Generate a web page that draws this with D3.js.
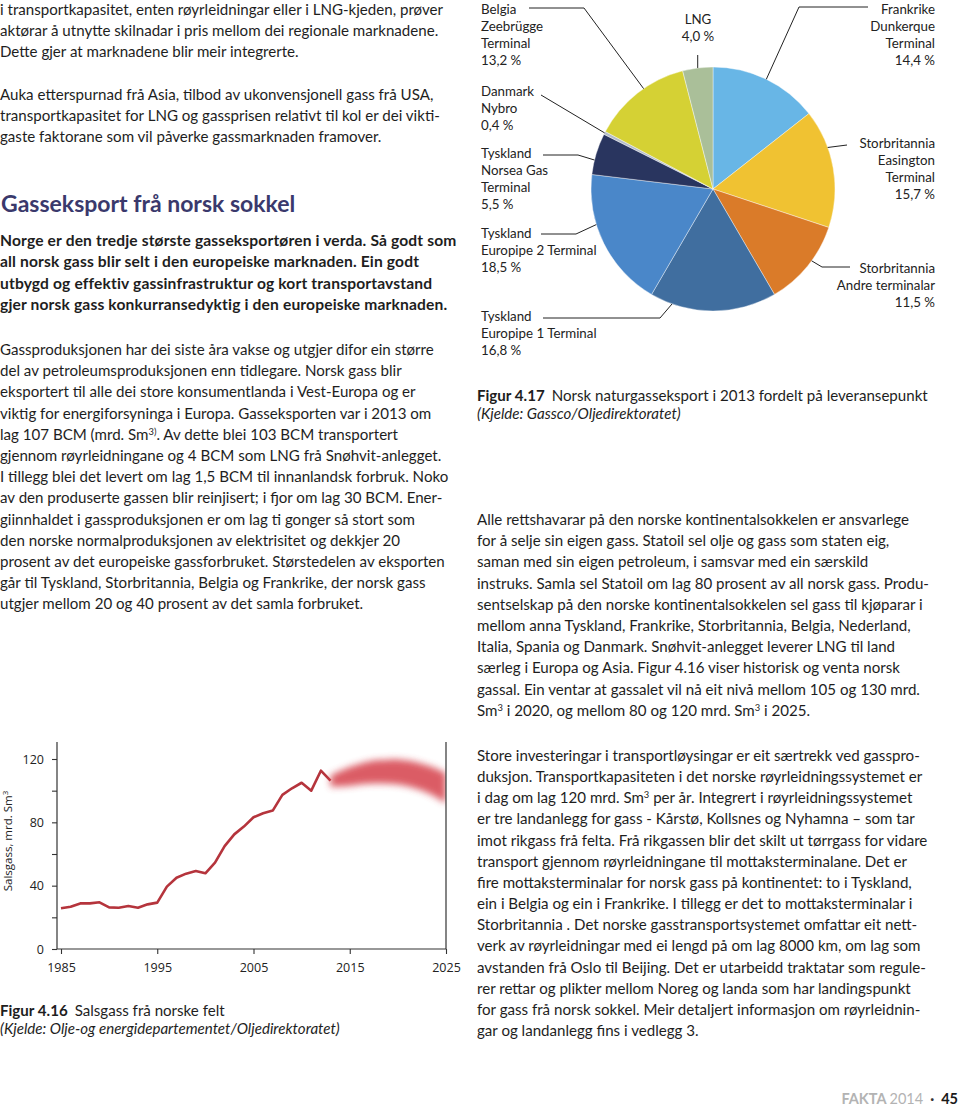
<!DOCTYPE html>
<html><head><meta charset="utf-8">
<script src="https://cdn.jsdelivr.net/npm/d3@7"></script>
<style>body{margin:0;background:#fff}svg{display:block}</style>
</head><body>
<script>
// ---------- DATA ----------
const pieLabels = ["Frankrike Dunkerque Terminal","Storbritannia Easington Terminal","Storbritannia Andre terminalar","Tyskland Europipe 1 Terminal","Tyskland Europipe 2 Terminal","Tyskland Norsea Gas Terminal","Danmark Nybro","Belgia Zeebrügge Terminal","LNG"];
const pieValues = [14.4, 15.7, 11.5, 16.8, 18.5, 5.5, 0.4, 13.2, 4.0];
const pieColors = ["#68b6e6","#f0c232","#da7b29","#406e9f","#4a87c9","#29355f","#b4bdc9","#d5d134","#aabf99"];
const pieLabelLines = [
  ["Frankrike","Dunkerque","Terminal","14,4 %"],
  ["Storbritannia","Easington","Terminal","15,7 %"],
  ["Storbritannia","Andre terminalar","11,5 %"],
  ["Tyskland","Europipe 1 Terminal","16,8 %"],
  ["Tyskland","Europipe 2 Terminal","18,5 %"],
  ["Tyskland","Norsea Gas","Terminal","5,5 %"],
  ["Danmark","Nybro","0,4 %"],
  ["Belgia","Zeebrügge","Terminal","13,2 %"],
  ["LNG","4,0 %"]
];
const histYears = [1985,1986,1987,1988,1989,1990,1991,1992,1993,1994,1995,1996,1997,1998,1999,2000,2001,2002,2003,2004,2005,2006,2007,2008,2009,2010,2011,2012,2013];
const histSales = [25.7,26.7,28.8,28.8,29.5,26.3,26.1,27.2,26.1,28.2,29.3,39.4,45.0,47.6,49.3,47.8,54.5,65.0,72.4,77.3,83.2,85.7,87.4,97.3,101.5,105.0,100.0,112.6,106.3];
const fcYears = [2013,2014,2015,2016,2017,2018,2019,2020,2021,2022,2023,2024,2025];
const fcMid = [106,107.5,109,110.5,111.5,112,112,112,111,109.5,107.5,105,101.5];
const fcHalf = [3.5,5,6,6.5,7,7.5,7.5,8,8,8.5,8.5,9,9.5];
const xTickYears = [1985,1995,2005,2015,2025];
const yTickValues = [0,20,40,60,80,100,120];

// ---------- TEXT ----------
const leftP1 = [
"i transportkapasitet, enten røyrleidningar eller i LNG-kjeden, prøver",
"aktørar å utnytte skilnadar i pris mellom dei regionale marknadene.",
"Dette gjer at marknadene blir meir integrerte."];
const leftP2 = [
"Auka etterspurnad frå Asia, tilbod av ukonvensjonell gass frå USA,",
"transportkapasitet for LNG og gassprisen relativt til kol er dei vikti-",
"gaste faktorane som vil påverke gassmarknaden framover."];
const heading = "Gasseksport frå norsk sokkel";
const leftBold = [
"Norge er den tredje største gasseksportøren i verda. Så godt som",
"all norsk gass blir selt i den europeiske marknaden. Ein godt",
"utbygd og effektiv gassinfrastruktur og kort transportavstand",
"gjer norsk gass konkurransedyktig i den europeiske marknaden."];
const leftP3 = [
"Gassproduksjonen har dei siste åra vakse og utgjer difor ein større",
"del av petroleumsproduksjonen enn tidlegare. Norsk gass blir",
"eksportert til alle dei store konsumentlanda i Vest-Europa og er",
"viktig for energiforsyninga i Europa. Gasseksporten var i 2013 om",
"lag 107 BCM (mrd. Sm{3)}. Av dette blei 103 BCM transportert",
"gjennom røyrleidningane og 4 BCM som LNG frå Snøhvit-anlegget.",
"I tillegg blei det levert om lag 1,5 BCM til innanlandsk forbruk. Noko",
"av den produserte gassen blir reinjisert; i fjor om lag 30 BCM. Ener-",
"giinnhaldet i gassproduksjonen er om lag ti gonger så stort som",
"den norske normalproduksjonen av elektrisitet og dekkjer 20",
"prosent av det europeiske gassforbruket. Størstedelen av eksporten",
"går til Tyskland, Storbritannia, Belgia og Frankrike, der norsk gass",
"utgjer mellom 20 og 40 prosent av det samla forbruket."];
const rightP1 = [
"Alle rettshavarar på den norske kontinentalsokkelen er ansvarlege",
"for å selje sin eigen gass. Statoil sel olje og gass som staten eig,",
"saman med sin eigen petroleum, i samsvar med ein særskild",
"instruks. Samla sel Statoil om lag 80 prosent av all norsk gass. Produ-",
"sentselskap på den norske kontinentalsokkelen sel gass til kjøparar i",
"mellom anna Tyskland, Frankrike, Storbritannia, Belgia, Nederland,",
"Italia, Spania og Danmark. Snøhvit-anlegget leverer LNG til land",
"særleg i Europa og Asia. Figur 4.16 viser historisk og venta norsk",
"gassal. Ein ventar at gassalet vil nå eit nivå mellom 105 og 130 mrd.",
"Sm{3} i 2020, og mellom 80 og 120 mrd. Sm{3} i 2025."];
const rightP2 = [
"Store investeringar i transportløysingar er eit særtrekk ved gasspro-",
"duksjon. Transportkapasiteten i det norske røyrleidningssystemet er",
"i dag om lag 120 mrd. Sm{3} per år. Integrert i røyrleidningssystemet",
"er tre landanlegg for gass - Kårstø, Kollsnes og Nyhamna – som tar",
"imot rikgass frå felta. Frå rikgassen blir det skilt ut tørrgass for vidare",
"transport gjennom røyrleidningane til mottaksterminalane. Det er",
"fire mottaksterminalar for norsk gass på kontinentet: to i Tyskland,",
"ein i Belgia og ein i Frankrike. I tillegg er det to mottaksterminalar i",
"Storbritannia . Det norske gasstransportsystemet omfattar eit nett-",
"verk av røyrleidningar med ei lengd på om lag 8000 km, om lag som",
"avstanden frå Oslo til Beijing. Det er utarbeidd traktatar som regule-",
"rer rettar og plikter mellom Noreg og landa som har landingspunkt",
"for gass frå norsk sokkel. Meir detaljert informasjon om røyrleidnin-",
"gar og landanlegg fins i vedlegg 3."];

// ---------- SVG ----------
const W = 960, H = 1106;
const svg = d3.select("body").append("svg").attr("width", W).attr("height", H);
const BODY = "Lato, 'Noto Sans', sans-serif";
const INK = "#1e1e1e";
const FS = 15.1;

function addLine(x, y, str, opts) {
  const size = opts.size || FS;
  const t = svg.append("text").attr("x", x).attr("y", y)
    .attr("font-family", opts.family || BODY).attr("font-size", size)
    .attr("fill", opts.fill || INK).attr("font-weight", opts.weight || 400)
    .attr("font-style", opts.style || "normal")
    .attr("text-anchor", opts.anchor || "start");
  if (opts.spacing) t.attr("letter-spacing", opts.spacing);
  const parts = str.split(/\{([^}]*)\}/);
  let down = false;
  parts.forEach((p, j) => {
    if (j % 2 === 1) {
      t.append("tspan").attr("dy", -5).attr("font-size", size * 0.62).text(p);
      down = true;
    } else if (p) {
      const s = t.append("tspan").text(p);
      if (down) { s.attr("dy", 5); down = false; }
    }
  });
  return t;
}
function para(lines, x, y0, lh, opts) {
  lines.forEach((l, i) => addLine(x, y0 + i * lh, l, opts));
}

// Left column text
para(leftP1, 0, 15, 21.2, {});
para(leftP2, 0, 100, 21.2, {});
addLine(1, 212, heading, {size: 23, weight: 700, fill: "#3a396c"});
para(leftBold, 0, 246, 21.3, {weight: 700, size: 15.6, spacing: 0.15});
para(leftP3, 0, 355, 21.2, {});

// Right column text
para(rightP1, 477, 525, 21.2, {});
para(rightP2, 477, 761, 21.15, {});

// Figure 4.17 caption
const cap1 = addLine(477, 401, "", {});
cap1.append("tspan").attr("font-weight", 700).text("Figur 4.17");
cap1.append("tspan").attr("dx", 7).text("Norsk naturgasseksport i 2013 fordelt på leveransepunkt");
addLine(477, 419, "(Kjelde: Gassco/Oljedirektoratet)", {style: "italic"});

// Figure 4.16 caption
const cap2 = addLine(0, 1016, "", {});
cap2.append("tspan").attr("font-weight", 700).text("Figur 4.16");
cap2.append("tspan").attr("dx", 7).text("Salsgass frå norske felt");
addLine(0, 1034, "(Kjelde: Olje-og energidepartementet/Oljedirektoratet)", {style: "italic"});

// Footer
const ft = svg.append("text").attr("x", 958).attr("y", 1104).attr("text-anchor", "end")
  .attr("font-family", BODY).attr("font-size", 14.5);
ft.append("tspan").attr("font-weight", 700).attr("fill", "#b3b3b3").text("FAKTA ");
ft.append("tspan").attr("fill", "#b3b3b3").text("2014");
ft.append("tspan").attr("fill", "#333").attr("font-weight", 700).attr("dx", 7).text("·");
ft.append("tspan").attr("fill", "#1a1a1a").attr("font-weight", 700).attr("dx", 7).text("45");

// ---------- PIE ----------
const cx = 713, cy = 189, R = 122;
const pie = d3.pie().sort(null).value(d => d)(pieValues);
const arc = d3.arc().innerRadius(0).outerRadius(R);
const gp = svg.append("g").attr("transform", `translate(${cx},${cy})`);
gp.selectAll("path").data(pie).join("path")
  .attr("d", arc).attr("fill", (d, i) => pieColors[i])
  .attr("stroke", "#fff").attr("stroke-width", 0.4);

// label layout: [x, firstBaseline, anchor, leaderStartX, leaderY, elbowX, angleOffsetDeg]
const pieLayout = [
  [935, 14, "end", 868, 7, 799, 0],
  [935, 148, "end", 847, 145, 847, -10],
  [935, 273, "end", 850, 267, 822, -3],
  [481, 321, "start", 543, 318, 660, 19.6],
  [481, 238, "start", 541, 234, 576, 9.5],
  [481, 158, "start", 543, 155, 578, -3],
  [481, 96, "start", 541, 95, 541, 0],
  [481, 14, "start", 529, 8, 584, 3.5],
  [698, 24, "middle", null, 55, null, 0]
];
pie.forEach((d, i) => {
  const [lx, ly, anc, sx, sy, ex, off] = pieLayout[i];
  pieLabelLines[i].forEach((s, k) => addLine(lx, ly + k * 17, s, {size: 13.3, anchor: anc, fill: "#222"}));
  const a = (d.startAngle + d.endAngle) / 2 + off * Math.PI / 180;
  const px = cx + R * Math.sin(a), py = cy - R * Math.cos(a);
  let pts;
  if (sx === null) pts = [[px, sy], [px, py]];
  else pts = [[sx, sy], [ex, sy], [px, py]];
  svg.append("path").attr("d", d3.line()(pts)).attr("fill", "none")
    .attr("stroke", "#222").attr("stroke-width", 1);
});

// ---------- LINE CHART ----------
const x = d3.scaleLinear().domain([1985, 2025]).range([61, 446]);
const y = d3.scaleLinear().domain([0, 120]).range([949, 759]);
const CF = "'Open Sans', 'Noto Sans', sans-serif";
const axisCol = "#333";

const defs = svg.append("defs");
defs.append("filter").attr("id", "blur").attr("x", "-20%").attr("y", "-50%").attr("width", "140%").attr("height", "200%")
  .append("feGaussianBlur").attr("stdDeviation", 3.5);
defs.append("clipPath").attr("id", "plotclip").append("rect")
  .attr("x", 40).attr("y", 700).attr("width", 446 - 40).attr("height", 260);

// historical line
svg.append("path").datum(histYears.map((yr, i) => [yr, histSales[i]]))
  .attr("d", d3.line().x(d => x(d[0])).y(d => y(d[1])))
  .attr("fill", "none").attr("stroke", "#b5343c").attr("stroke-width", 2.6).attr("stroke-linejoin", "round");

// forecast band
svg.append("g").attr("clip-path", "url(#plotclip)")
  .append("path").datum(fcYears.map((yr, i) => [yr, fcMid[i], fcHalf[i]]))
  .attr("d", d3.area().curve(d3.curveBasis).x(d => x(d[0])).y0(d => y(d[1] - d[2])).y1(d => y(d[1] + d[2])))
  .attr("fill", "#d84c54").attr("opacity", 0.9).attr("filter", "url(#blur)");

// y axis
const yAxis = d3.axisLeft(y).tickValues(yTickValues).tickSize(5).tickPadding(8)
  .tickFormat(v => v % 40 === 0 ? v : "");
const gy = svg.append("g").attr("transform", "translate(57,0)").call(yAxis);
gy.select(".domain").remove();
gy.selectAll("line").attr("stroke", axisCol).attr("stroke-width", 1.1);
gy.selectAll("text").attr("font-family", CF).attr("font-size", 12.5).attr("fill", "#222");
svg.append("line").attr("x1", 57).attr("x2", 57).attr("y1", 742).attr("y2", y(0)).attr("stroke", axisCol).attr("stroke-width", 1.2);
// right frame
svg.append("line").attr("x1", x(2025)).attr("x2", x(2025)).attr("y1", 742).attr("y2", y(0)).attr("stroke", axisCol).attr("stroke-width", 1.2);

// x axis
const xAxis = d3.axisBottom(x).tickValues(xTickYears).tickSize(5).tickPadding(9).tickFormat(d3.format("d"));
const gx = svg.append("g").attr("transform", `translate(0,${y(0)})`).call(xAxis);
gx.select(".domain").remove();
gx.selectAll("line").attr("stroke", axisCol).attr("stroke-width", 1.1);
gx.selectAll("text").attr("font-family", CF).attr("font-size", 12.5).attr("fill", "#222");
svg.append("line").attr("x1", 57).attr("x2", x(2025)).attr("y1", y(0)).attr("y2", y(0)).attr("stroke", axisCol).attr("stroke-width", 1.2);

// y label
const yl = svg.append("text").attr("transform", "translate(12,841) rotate(-90)").attr("text-anchor", "middle")
  .attr("font-family", CF).attr("font-size", 11.5).attr("fill", "#222");
yl.append("tspan").text("Salsgass, mrd. Sm");
yl.append("tspan").attr("dy", -4).attr("font-size", 8).text("3");
</script>
</body></html>
